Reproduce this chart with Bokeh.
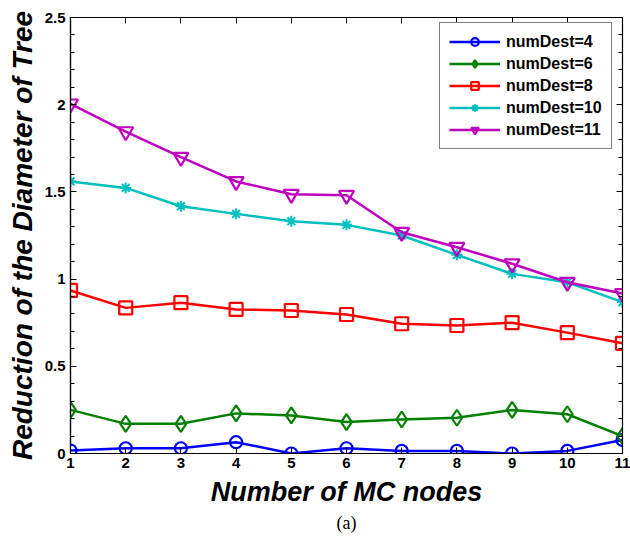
from bokeh.plotting import figure
from bokeh.models import Range1d, FixedTicker, LinearAxis, Title, Legend
from bokeh.embed import file_html
from bokeh.resources import INLINE

mc_nodes = [1, 2, 3, 4, 5, 6, 7, 8, 9, 10, 11]
dest4 = [0.017, 0.03, 0.03, 0.065, 0.0, 0.03, 0.015, 0.015, 0.0, 0.015, 0.077]
dest6 = [0.25, 0.17, 0.17, 0.23, 0.218, 0.18, 0.195, 0.205, 0.25, 0.225, 0.1]
dest8 = [0.935, 0.835, 0.865, 0.826, 0.82, 0.797, 0.744, 0.734, 0.75, 0.693, 0.632]
dest10 = [1.56, 1.523, 1.418, 1.374, 1.332, 1.311, 1.25, 1.139, 1.03, 0.982, 0.868]
dest11 = [2.005, 1.846, 1.699, 1.56, 1.487, 1.481, 1.269, 1.183, 1.088, 0.982, 0.918]

y_ticks = [0, 0.5, 1, 1.5, 2, 2.5]
y_tick_labels = ["0", "0.5", "1", "1.5", "2", "2.5"]
series_labels = ["numDest=4", "numDest=6", "numDest=8", "numDest=10", "numDest=11"]

FONT = "Liberation Sans"

p = figure(width=630, height=537, output_backend="svg", toolbar_location=None,
           x_range=Range1d(1, 11), y_range=Range1d(0, 2.5),
           min_border_left=70, min_border_right=8, min_border_top=17, min_border_bottom=84)
p.grid.visible = False
p.outline_line_color = "black"
p.outline_line_width = 1.2
p.background_fill_color = "white"
p.border_fill_color = "white"

minor = [i / 10 for i in range(26)]
p.xaxis.ticker = FixedTicker(ticks=mc_nodes)
p.yaxis.ticker = FixedTicker(ticks=y_ticks, minor_ticks=minor)
p.yaxis.major_label_overrides = {t: l for t, l in zip(y_ticks, y_tick_labels)}

for ax in [p.xaxis[0], p.yaxis[0]]:
    ax.axis_line_color = "black"
    ax.axis_line_width = 1.2
    ax.major_tick_in = 6
    ax.major_tick_out = 0
    ax.minor_tick_in = 4
    ax.minor_tick_out = 0
    ax.major_tick_line_width = 1
    ax.major_label_text_font = FONT
    ax.major_label_text_font_style = "bold"
    ax.major_label_text_font_size = "15px"
    ax.major_label_text_color = "black"
    ax.axis_label_text_font = FONT
    ax.axis_label_text_font_style = "bold italic"
    ax.axis_label_text_color = "black"
    ax.axis_label_text_line_height = 0.85
p.xaxis.minor_tick_line_color = None
p.xaxis.major_label_standoff = 4
p.yaxis.major_label_standoff = 5
p.xaxis.axis_label = "Number of MC nodes"
p.xaxis.axis_label_text_font_size = "27px"
p.xaxis.axis_label_standoff = 6
p.yaxis.axis_label = "Reduction of the Diameter of Tree"
p.yaxis.axis_label_text_font_size = "28px"
p.yaxis.axis_label_standoff = 4

# mirror ticks on top and right (box on)
right = LinearAxis(ticker=FixedTicker(ticks=y_ticks, minor_ticks=minor))
top = LinearAxis(ticker=FixedTicker(ticks=mc_nodes))
for ax in [right, top]:
    ax.major_tick_in = 6
    ax.major_tick_out = 0
    ax.minor_tick_in = 4
    ax.minor_tick_out = 0
    ax.major_label_text_font_size = "0px"
    ax.major_label_standoff = 0
    ax.axis_line_color = "black"
top.minor_tick_line_color = None
p.add_layout(right, "right")
p.add_layout(top, "above")

colors = ["#0000FF", "#008000", "#FF0000", "#00BFBF", "#BF00BF"]
markers = ["circle", "diamond", "square", "asterisk", "inverted_triangle"]
sizes = [12, 16, 13, 11, 15]
data = [dest4, dest6, dest8, dest10, dest11]

items = []
for ys, c, m, s, lab in zip(data, colors, markers, sizes, series_labels):
    r1 = p.line(mc_nodes, ys, line_color=c, line_width=2.5)
    if m == "asterisk":
        r2 = p.scatter(mc_nodes, ys, marker=m, size=s, line_color=c, line_width=2, fill_color=c)
    else:
        r2 = p.scatter(mc_nodes, ys, marker=m, size=s, line_color=c, line_width=2.2, fill_color=None)
    items.append((lab, [r1, r2]))

legend = Legend(items=items, location=(369, 304))
legend.label_text_font = FONT
legend.label_text_font_style = "bold"
legend.label_text_font_size = "16px"
legend.label_text_color = "black"
legend.glyph_width = 51
legend.glyph_height = 19
legend.label_height = 19
legend.label_standoff = 6
legend.spacing = 3
legend.padding = 9
legend.margin = 0
legend.border_line_color = "black"
legend.border_line_width = 1.5
legend.background_fill_color = "white"
legend.background_fill_alpha = 1
p.add_layout(legend)

cap = Title(text="(a)", align="center", text_font="Liberation Serif",
            text_font_style="normal", text_font_size="18px", text_color="black",
            text_line_height=0.85, standoff=2)
p.add_layout(cap, "below")

open("out.html", "w").write(file_html(p, INLINE))
